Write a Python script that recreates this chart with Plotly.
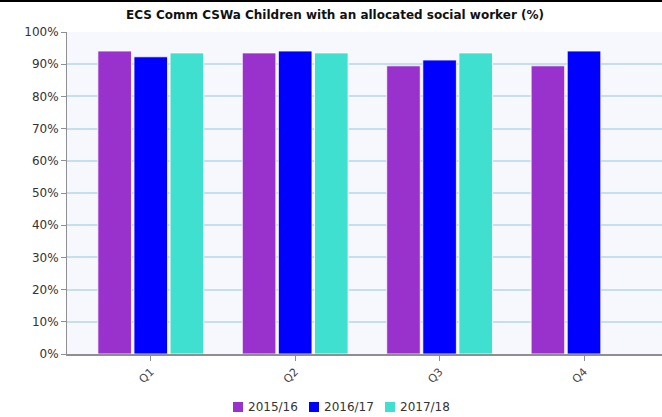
import plotly.graph_objects as go

quarters = ["Q1", "Q2", "Q3", "Q4"]
series_names = ["2015/16", "2016/17", "2017/18"]
vals_2015_16 = [94.1, 93.5, 89.5, 89.5]
vals_2016_17 = [92.3, 94.1, 91.3, 94.1]
vals_2017_18 = [93.5, 93.5, 93.5, None]
colors = ["#9932CC", "#0000FF", "#40E0D0"]

y_ticks = [0, 10, 20, 30, 40, 50, 60, 70, 80, 90, 100]
y_tick_labels = [f"{v}%" for v in y_ticks]

font_family = "DejaVu Sans, Verdana, sans-serif"

W, H = 662, 417
M_L, M_R, M_T, M_B = 67, 0, 32, 63
PLOT_W = W - M_L - M_R
PLOT_H = H - M_T - M_B


def px_to_paper_x(px):
    return (px - M_L) / PLOT_W


def px_to_paper_y(py):
    return (H - M_B - py) / PLOT_H


fig = go.Figure()
for name, vals, col in zip(series_names, [vals_2015_16, vals_2016_17, vals_2017_18], colors):
    fig.add_trace(go.Bar(
        x=quarters, y=vals, name=name, showlegend=False,
        marker=dict(color=col, line=dict(color="rgba(255,255,255,0.8)", width=1)),
    ))

# compact legend row under the axis: colour square followed by the series name
shapes = [
    dict(type="rect", xref="paper", yref="paper",
         x0=-0.2, x1=1.1, y0=px_to_paper_y(2), y1=px_to_paper_y(-2),
         fillcolor="black", line=dict(width=0), layer="above"),
]
annotations = []
legend_start, legend_pitch, legend_y = 233, 76, 407
for i, (name, col) in enumerate(zip(series_names, colors)):
    x0 = legend_start + i * legend_pitch
    shapes.append(dict(
        type="rect", xref="paper", yref="paper",
        x0=px_to_paper_x(x0), x1=px_to_paper_x(x0 + 10),
        y0=px_to_paper_y(legend_y + 5), y1=px_to_paper_y(legend_y - 5),
        fillcolor=col, line=dict(width=0), layer="above",
    ))
    annotations.append(dict(
        text=name, xref="paper", yref="paper",
        x=px_to_paper_x(x0 + 13), y=px_to_paper_y(legend_y),
        xanchor="left", yanchor="middle", showarrow=False,
        font=dict(family=font_family, size=12, color="#333333"),
    ))

fig.update_layout(
    width=W, height=H,
    margin=dict(l=M_L, r=M_R, t=M_T, b=M_B),
    paper_bgcolor="white",
    plot_bgcolor="#F7F8FE",
    barmode="group",
    bargap=0.25,
    bargroupgap=0.07,
    font=dict(family=font_family, size=12, color="#333333"),
    title=dict(
        text="<b>ECS Comm CSWa Children with an allocated social worker (%)</b>",
        x=0.506, xref="container", xanchor="center",
        y=1 - 15 / H, yref="container", yanchor="middle",
        font=dict(family=font_family, size=12, color="#111111"),
    ),
    xaxis=dict(
        type="category",
        range=[-0.58, 3.54],
        showgrid=False,
        showline=True, linecolor="#8f8f8f", linewidth=2,
        ticks="outside", ticklen=5, tickcolor="#8f8f8f",
        tickangle=-45,
        tickfont=dict(family=font_family, size=11, color="#444444"),
        fixedrange=True,
    ),
    yaxis=dict(
        range=[0, 100],
        tickvals=y_ticks, ticktext=y_tick_labels,
        showgrid=True, gridcolor="#C5DFEC", gridwidth=2,
        showline=True, linecolor="#8f8f8f", linewidth=1,
        ticks="outside", ticklen=5, tickcolor="#8f8f8f",
        tickfont=dict(family=font_family, size=12, color="#333333"),
        zeroline=False,
        fixedrange=True,
    ),
    shapes=shapes,
    annotations=annotations,
)

fig.write_html("out.html")
